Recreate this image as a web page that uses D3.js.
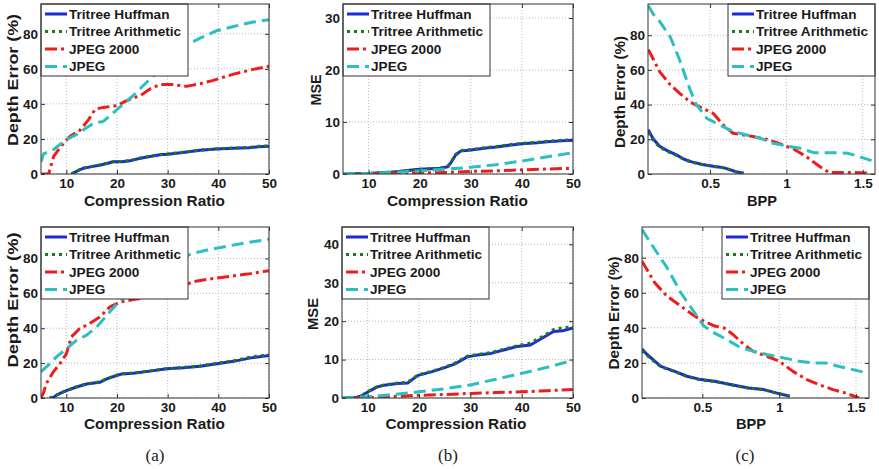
<!DOCTYPE html>
<html>
<head>
<meta charset="utf-8">
<script src="https://cdn.jsdelivr.net/npm/d3@7"></script>
<style>
  body { margin: 0; background: #fff; }
  text { font-family: "Liberation Sans", Arial, sans-serif; font-weight: bold; fill: #1a1a1a; }
  .caption { font-family: "Liberation Serif", "Times New Roman", serif; font-weight: normal; }
</style>
</head>
<body>
<svg id="fig" width="879" height="469"></svg>
<script>
/*	Series names shared by every panel ------------------*/
const seriesNames = ["Tritree Huffman", "Tritree Arithmetic", "JPEG 2000", "JPEG"];

/*	Tick labels ----------------------------------------*/
const crTicks = [10, 20, 30, 40, 50];
const bppTicks = [0.5, 1, 1.5];
const errTicks = [0, 20, 40, 60, 80];
const mseTopTicks = [0, 10, 20, 30];
const mseBottomTicks = [0, 10, 20, 30, 40];

/*	(a) top : compression ratio vs depth error ----------*/
const aTopHuffman = [[11,0],[12,1.5],[13.4,3.3],[15,4.2],[16.5,5],[18,6],[19.3,7],[21,7],[22.5,7.5],[24.6,9],[26.5,10],[28.5,11],[30,11.3],[33,12.3],[36.4,13.5],[39.6,14.3],[42,14.6],[44.2,14.8],[46,15],[48,15.6],[50,15.8]];
const aTopArith   = [[11,0],[12,1.6],[13.4,3.4],[15,4.3],[16.5,5.1],[18,6.1],[19.3,7.1],[21,7.1],[22.5,7.6],[24.6,9.1],[26.5,10.1],[28.5,11.1],[30,11.4],[33,12.4],[36.4,13.6],[39.6,14.4],[42,14.7],[44.2,14.9],[46,15.2],[48,15.8],[50,16]];
const aTopJ2k     = [[5,0],[6.5,0],[7.5,10],[8.5,14],[9.5,17.7],[10.8,21.6],[12.7,25],[14.4,31],[15.7,37],[17.3,38],[20,39],[22,42],[24.6,44.7],[26.5,48.5],[28.5,51],[31,51],[33.7,50],[36.4,51.5],[39,53.4],[43,57],[46.9,59.7],[50,61.5]];
const aTopJpeg    = [[5,7],[5.5,11.5],[7.5,14],[10,19.7],[12,22.5],[14,26.4],[15.4,29],[17.3,30],[19.3,35],[21.3,40],[23.2,44.7],[25.2,50.5],[27.2,56],[29.5,62],[31.8,69.7],[33.7,73.6],[36.4,77.5],[39.6,81.7],[43,84.2],[46.9,86.7],[50,88]];

/*	(b) top : compression ratio vs MSE ------------------*/
const bTopHuffman = [[5,0],[10,0.1],[15,0.4],[18,0.7],[20,0.9],[24,1.1],[25.5,1.4],[26.2,2.3],[27,3.6],[28,4.4],[30,4.6],[33,5],[35,5.2],[38,5.6],[40,5.8],[43,6],[45,6.2],[48,6.4],[50,6.5]];
const bTopArith   = [[5,0],[10,0.1],[15,0.4],[18,0.7],[20,0.9],[24,1.1],[25.5,1.5],[26.2,2.4],[27,3.7],[28,4.5],[30,4.7],[33,5.1],[35,5.3],[38,5.7],[40,5.9],[43,6.1],[45,6.3],[48,6.5],[50,6.6]];
const bTopJ2k     = [[5,0],[10,0],[14,0.1],[20,0.2],[25,0.3],[30,0.5],[35,0.6],[40,0.8],[45,0.95],[50,1.1]];
const bTopJpeg    = [[5,0.1],[10,0.1],[15,0.3],[20,0.6],[25,0.9],[30,1.3],[35,1.8],[40,2.5],[45,3.3],[50,4.1]];

/*	(c) top : BPP vs depth error ------------------------*/
const cTopHuffman = [[0.096,25.5],[0.11,23],[0.13,20],[0.17,16],[0.22,13.5],[0.28,11],[0.33,8.5],[0.38,7],[0.45,5.5],[0.52,4.5],[0.58,3.8],[0.62,2.8],[0.67,1.3],[0.72,0.5]];
const cTopArith   = [[0.096,24],[0.11,22],[0.13,19.5],[0.17,15.5],[0.22,13],[0.28,10.8],[0.33,8.3],[0.38,6.8],[0.45,5.4],[0.52,4.4],[0.58,3.7],[0.62,2.7],[0.67,1.2],[0.72,0.5]];
const cTopJ2k     = [[0.096,71.7],[0.13,66],[0.17,59],[0.24,51.4],[0.3,46.6],[0.35,43],[0.39,40.5],[0.45,38],[0.52,35],[0.59,28],[0.65,23.5],[0.72,22.5],[0.78,21.6],[0.87,20],[0.96,17.3],[1.05,14.3],[1.13,10],[1.22,4.2],[1.28,0.8],[1.37,0.8],[1.45,0.8],[1.53,0.6]];
const cTopJpeg    = [[0.096,97],[0.13,92],[0.17,88],[0.24,79],[0.3,66],[0.37,48.5],[0.41,40],[0.48,32],[0.57,28],[0.65,24.5],[0.74,22.5],[0.83,20.6],[0.91,17.7],[1.0,16.2],[1.09,14.8],[1.18,12.3],[1.31,12.3],[1.4,12],[1.48,10],[1.58,7]];

/*	(a) bottom ------------------------------------------*/
const aBotHuffman = [[6.7,0],[7.5,0.5],[8,1.5],[9,3],[10,4.2],[12,6.3],[14,8],[16.6,9],[18,11],[19.9,12.9],[21,13.8],[23.2,14.2],[26.5,15.4],[29.8,16.7],[33.1,17.3],[36.4,18.2],[39.7,19.6],[43,21],[46.4,23],[50,24.4]];
const aBotArith   = [[6.7,0],[7.5,0.6],[8,1.6],[9,3.1],[10,4.3],[12,6.4],[14,8.1],[16.6,9.2],[18,11.1],[19.9,13],[21,13.9],[23.2,14.3],[26.5,15.5],[29.8,16.8],[33.1,17.5],[36.4,18.4],[39.7,19.8],[43,21.3],[46.4,23.5],[50,24.8]];
const aBotJ2k     = [[5,0],[5.5,3],[6,8],[7.4,14.8],[8.7,19.6],[10,25.3],[11,35],[12.6,39.7],[14.6,42.6],[16.6,46.4],[18.6,52.2],[20.6,55],[23.2,56.4],[26.5,58],[29,60],[32,63],[35,66.6],[37.8,68],[41.7,69.5],[45.7,71],[50,73]];
const aBotJpeg    = [[5,15],[6.7,19.6],[8,23.4],[10,28.2],[12,33],[14,36],[16,40.7],[18,47.4],[20,54],[22,59],[25,65],[28,72],[31,78],[35,83],[37.8,84.8],[41.7,87],[45.7,89],[50,91]];

/*	(b) bottom ------------------------------------------*/
const bBotHuffman = [[5,0],[8,0.2],[9,0.7],[10.6,2],[11.9,2.9],[13.2,3.3],[15.8,3.8],[17.8,3.9],[19.8,5.9],[22.4,6.8],[25,7.9],[26.9,8.8],[29.4,10.7],[31.4,11.2],[34,11.6],[36.5,12.5],[39.1,13.4],[41.7,13.8],[44.3,15.8],[46.2,17.3],[48,17.5],[50,18.2]];
const bBotArith   = [[5,0],[8,0.2],[9,0.8],[10.6,2.1],[11.9,3],[13.2,3.4],[15.8,3.9],[17.8,4.1],[19.8,6],[22.4,6.9],[25,8],[26.9,9],[29.4,10.9],[31.4,11.3],[34,11.8],[36.5,12.7],[39.1,13.6],[41.7,14.3],[44.3,16.2],[46.2,17.8],[48,18.3],[50,18.5]];
const bBotJ2k     = [[7.5,0],[10,0.1],[15,0.4],[20,0.7],[25,0.9],[30,1.2],[35,1.4],[40,1.6],[45,1.9],[50,2.2]];
const bBotJpeg    = [[5,0.1],[10,0.3],[15,0.9],[20,1.6],[25,2.4],[30,3.4],[35,4.9],[40,6.4],[45,8.0],[50,9.8]];

/*	(c) bottom ------------------------------------------*/
const cBotHuffman = [[0.107,28],[0.14,24.8],[0.19,21],[0.23,18],[0.32,15.2],[0.4,12.4],[0.49,10.5],[0.58,9.5],[0.69,7.6],[0.8,5.7],[0.9,4.8],[0.98,2.9],[1.07,1]];
const cBotArith   = [[0.107,27],[0.14,24.3],[0.19,20.6],[0.23,17.8],[0.32,15],[0.4,12.2],[0.49,10.3],[0.58,9.3],[0.69,7.5],[0.8,5.6],[0.9,4.7],[0.98,2.8],[1.07,1]];
const cBotJ2k     = [[0.107,78],[0.19,65.7],[0.27,58],[0.36,52.4],[0.45,46.7],[0.51,43.8],[0.58,41],[0.64,40],[0.7,36.2],[0.77,30.5],[0.83,26.7],[0.92,23.8],[1.0,21],[1.09,15.2],[1.18,10.5],[1.26,7.6],[1.35,4.8],[1.43,2.9],[1.52,0]];
const cBotJpeg    = [[0.107,96],[0.19,84.8],[0.27,74.3],[0.36,60],[0.45,48.6],[0.51,41],[0.58,37],[0.66,33.3],[0.75,28.6],[0.83,26.7],[0.92,24.8],[1.0,23.4],[1.13,21],[1.22,20],[1.3,20],[1.39,18],[1.48,16.2],[1.57,14.3]];

/*	Line styles, in plot order --------------------------*/
const seriesColors = ["#1e2ad6", "#177d17", "#ee1d1d", "#2cbfc0"];
const seriesDash = [null, "3,4", "12,4,3,4", "12,6"];

/*	Panel layout ----------------------------------------*/
const panels = [
  {id:"aT", box:[41,269,4,174],  xd:[5,50], yd:[0,97], xt:crTicks, yt:errTicks, series:[aTopHuffman,aTopArith,aTopJ2k,aTopJpeg],
   xl:"Compression Ratio", xlPos:[154.5,206], xlLen:141, yl:"Depth Error (%)", ylPos:[12.5,80], ylLen:132, leg:"left"},
  {id:"bT", box:[343,573,4,174], xd:[5,50], yd:[0,32.7], xt:crTicks, yt:mseTopTicks, series:[bTopHuffman,bTopArith,bTopJ2k,bTopJpeg],
   xl:"Compression Ratio", xlPos:[457.5,206], xlLen:141, yl:"MSE", ylPos:[315,90], ylLen:31, leg:"left"},
  {id:"cT", box:[648,875,4,174], xd:[0.094,1.58], yd:[0,98], xt:bppTicks, yt:errTicks, series:[cTopHuffman,cTopArith,cTopJ2k,cTopJpeg],
   xl:"BPP", xlPos:[762,206], xlLen:30, yl:"Depth Error (%)", ylPos:[619,92], ylLen:112, leg:"right"},
  {id:"aB", box:[41,269,227,398], xd:[5,50], yd:[0,98], xt:crTicks, yt:errTicks, series:[aBotHuffman,aBotArith,aBotJ2k,aBotJpeg],
   xl:"Compression Ratio", xlPos:[154.5,429], xlLen:141, yl:"Depth Error (%)", ylPos:[12.5,300], ylLen:135, leg:"left"},
  {id:"bB", box:[342,573,227,398], xd:[5,50], yd:[0,44.5], xt:crTicks, yt:mseBottomTicks, series:[bBotHuffman,bBotArith,bBotJ2k,bBotJpeg],
   xl:"Compression Ratio", xlPos:[456,429], xlLen:141, yl:"MSE", ylPos:[312,314], ylLen:32, leg:"left"},
  {id:"cB", box:[642,869,227,398], xd:[0.107,1.585], yd:[0,97.5], xt:bppTicks, yt:errTicks, series:[cBotHuffman,cBotArith,cBotJ2k,cBotJpeg],
   xl:"BPP", xlPos:[751,429], xlLen:30, yl:"Depth Error (%)", ylPos:[613,313], ylLen:113, leg:"right"}
];

const captions = [["(a)",155],["(b)",448],["(c)",745]];

const svg = d3.select("#fig");
svg.append("rect").attr("width",879).attr("height",469).attr("fill","#fff");

panels.forEach(function(p){
  const [left,right,top,bottom] = p.box;
  const x = d3.scaleLinear().domain(p.xd).range([left,right]);
  const y = d3.scaleLinear().domain(p.yd).range([bottom,top]);
  const g = svg.append("g");

  /*	grid lines ---------------------------------------*/
  g.selectAll(".gx").data(p.xt).join("line")
    .attr("x1",d=>x(d)).attr("x2",d=>x(d)).attr("y1",top).attr("y2",bottom)
    .attr("stroke","#b8b8b8").attr("stroke-width",1).attr("stroke-dasharray","1,2");
  g.selectAll(".gy").data(p.yt).join("line")
    .attr("x1",left).attr("x2",right).attr("y1",d=>y(d)).attr("y2",d=>y(d))
    .attr("stroke","#b8b8b8").attr("stroke-width",1).attr("stroke-dasharray","1,2");

  /*	data lines, clipped to the axes -------------------*/
  svg.append("clipPath").attr("id","clip"+p.id).append("rect")
    .attr("x",left).attr("y",top).attr("width",right-left).attr("height",bottom-top);
  const line = d3.line().x(d=>x(d[0])).y(d=>y(d[1]));
  const lg = g.append("g").attr("clip-path","url(#clip"+p.id+")");
  p.series.forEach(function(s,i){
    lg.append("path").datum(s).attr("d",line)
      .attr("fill","none").attr("stroke",seriesColors[i]).attr("stroke-width",3)
      .attr("stroke-linejoin","round")
      .attr("stroke-dasharray",seriesDash[i]);
  });

  /*	axes, ticks pointing inward -----------------------*/
  const fmt = d3.format("~g");
  const ax = g.append("g").attr("transform","translate(0,"+bottom+")")
    .call(d3.axisBottom(x).tickValues(p.xt).tickFormat(fmt).tickSize(-4).tickPadding(4));
  const ay = g.append("g").attr("transform","translate("+left+",0)")
    .call(d3.axisLeft(y).tickValues(p.yt).tickFormat(fmt).tickSize(-4).tickPadding(3));
  const at = g.append("g").attr("transform","translate(0,"+top+")")
    .call(d3.axisTop(x).tickValues(p.xt).tickFormat("").tickSize(-4));
  const ar = g.append("g").attr("transform","translate("+right+",0)")
    .call(d3.axisRight(y).tickValues(p.yt).tickFormat("").tickSize(-4));
  [ax,ay,at,ar].forEach(function(a){
    a.select(".domain").remove();
    a.selectAll("line").attr("stroke","#333");
    a.selectAll("text").attr("font-size",13.5).attr("font-family",null).attr("fill","#1a1a1a");
  });

  /*	legend -------------------------------------------*/
  const lw = 147, lh = 72;
  const lx = p.leg === "left" ? left : right - lw;
  const ly = top;
  const leg = g.append("g");
  leg.append("rect").attr("x",lx).attr("y",ly).attr("width",lw).attr("height",lh)
    .attr("fill","#fff").attr("stroke","#333").attr("stroke-width",1);
  seriesNames.forEach(function(name,i){
    const ry = ly + 10 + i*17.5;
    leg.append("line").attr("x1",lx+4).attr("x2",lx+26).attr("y1",ry).attr("y2",ry)
      .attr("stroke",seriesColors[i]).attr("stroke-width",3)
      .attr("stroke-dasharray",seriesDash[i]);
    leg.append("text").attr("x",lx+28).attr("y",ry).attr("dy","0.36em")
      .attr("font-size",13.6).text(name);
  });

  /*	box around the axes -------------------------------*/
  g.append("rect").attr("x",left).attr("y",top).attr("width",right-left).attr("height",bottom-top)
    .attr("fill","none").attr("stroke","#333").attr("stroke-width",1);

  /*	axis labels --------------------------------------*/
  g.append("text").attr("x",p.xlPos[0]).attr("y",p.xlPos[1]).attr("text-anchor","middle")
    .attr("font-size",15.5).attr("textLength",p.xlLen).attr("lengthAdjust","spacingAndGlyphs").text(p.xl);
  g.append("text").attr("transform","translate("+p.ylPos[0]+","+p.ylPos[1]+") rotate(-90)")
    .attr("text-anchor","middle").attr("dy","0.36em")
    .attr("font-size",15.5).attr("textLength",p.ylLen).attr("lengthAdjust","spacingAndGlyphs").text(p.yl);
});

/*	sub figure captions ----------------------------------*/
svg.selectAll(".caption").data(captions).join("text")
  .attr("class","caption").attr("x",d=>d[1]).attr("y",461).attr("text-anchor","middle")
  .attr("font-size",17).text(d=>d[0]);
</script>
</body>
</html>
